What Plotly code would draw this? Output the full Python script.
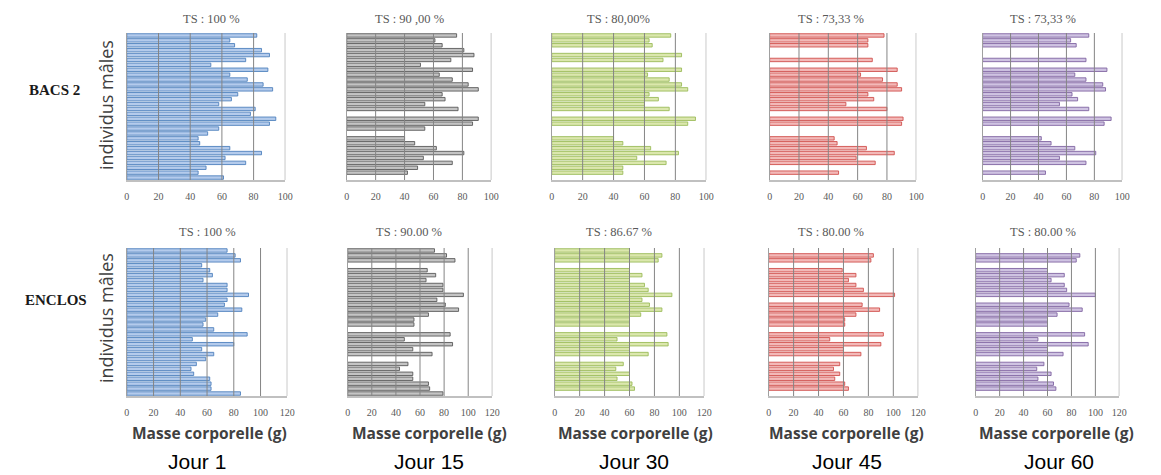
import plotly.graph_objects as go

W, H = 1161, 475

individus = list(range(1, 31))

jours = ["Jour 1", "Jour 15", "Jour 30", "Jour 45", "Jour 60"]
groupes = ["BACS 2", "ENCLOS"]

titres_bacs = ["TS : 100 %", "TS : 90 ,00 %", "TS : 80,00%", "TS : 73,33 %", "TS : 73,33 %"]
titres_enclos = ["TS : 100 %", "TS : 90.00 %", "TS : 86.67 %", "TS : 80.00 %", "TS : 80.00 %"]

ticks_bacs = [0, 20, 40, 60, 80, 100]
ticks_enclos = [0, 20, 40, 60, 80, 100, 120]

# Masse corporelle (g) par individu (None = individu mort)
bacs_j1 = [82, 65, 68, 85, 90, 75, 53, 89, 65, 76, 86, 92, 70, 66, 58, 81, 78, 94, 90, 58, 51, 45, 46, 65, 85, 62, 75, 50, 45, 61]
bacs_j15 = [76, 61, 66, 81, 88, 72, 51, 87, 64, 73, 84, 91, 66, 68, 54, 77, None, 91, 87, 54, None, 40, 47, 62, 81, 53, 73, 49, 42, None]
bacs_j30 = [77, 63, 65, None, 84, 72, None, 84, 62, 76, 84, 88, 63, 69, 60, 76, None, 93, 88, None, None, 40, 46, 64, 82, 55, 74, 46, 46, None]
bacs_j45 = [78, 67, 67, None, None, 70, None, 87, 62, 77, 87, 90, 67, 71, 52, 80, None, 91, 90, None, None, 44, 46, 66, 85, 59, 72, None, 47, None]
bacs_j60 = [76, 63, 67, None, None, 74, None, 89, 66, 74, 86, 88, 64, 68, 55, 76, None, 92, 87, None, None, 42, 49, 66, 81, 55, 74, None, 45, None]

enclos_j1 = [75, 81, 85, 56, 62, 64, 57, 75, 75, 91, 75, 73, 86, 68, 59, 57, 65, 90, 49, 80, 56, 65, 59, 52, 48, 50, 62, 63, 63, 85]
enclos_j15 = [72, 82, 89, None, 66, 73, 65, 79, 79, 96, 74, 81, 92, 67, 55, 55, None, 85, 47, 87, 54, 70, None, 50, 43, 54, 54, 67, 68, 79]
enclos_j30 = [60, 86, 83, None, 60, 70, 60, 72, 75, 94, 70, 76, 86, 69, 60, 60, None, 90, 50, 91, 60, 75, None, 55, 49, 60, 50, 62, 64, None]
enclos_j45 = [None, 84, 82, None, 59, 70, 64, 70, 76, 101, None, 75, 89, 70, 61, 61, None, 92, 49, 90, 60, 74, None, 57, 52, 57, 53, 61, 64, None]
enclos_j60 = [None, 87, 84, None, 60, 74, 63, 74, 76, 100, None, 78, 89, 68, 60, 60, None, 91, 52, 94, 60, 73, None, 57, 51, 63, 52, 65, 67, None]

bacs = [bacs_j1, bacs_j15, bacs_j30, bacs_j45, bacs_j60]
enclos = [enclos_j1, enclos_j15, enclos_j30, enclos_j45, enclos_j60]

fills = ["#b4cbec", "#c4c4c4", "#dbe7ad", "#f3b9b8", "#cfc3e2"]
lines = ["#4f81bd", "#595959", "#9bbb59", "#d0504d", "#8064a2"]

# panel layout (pixels)
row1_x = [(125, 285), (347, 493), (554, 710), (774, 922), (989, 1130)]
row2_x = [(125, 287), (348, 494), (557, 708), (773, 924), (982, 1127)]
row1_y = (33, 180)
row2_y = (248, 396)
title1_cx = [210, 410, 621, 836, 1050]
title2_cx = [206, 410, 622, 836, 1050]
jour_cx = [196, 430, 637, 852, 1066]
masse_cx = [208, 431, 639, 852, 1064]


def px(x):
    return x / W


def py(y):
    return 1 - y / H


fig = go.Figure()
layout = {}
shapes = []
annotations = []

n = 0
for r, (data, xdoms, ydom, ticks) in enumerate([
        (bacs, row1_x, row1_y, ticks_bacs),
        (enclos, row2_x, row2_y, ticks_enclos)]):
    for c in range(5):
        n += 1
        xa = "x" if n == 1 else f"x{n}"
        ya = "y" if n == 1 else f"y{n}"
        fig.add_trace(go.Bar(
            x=data[c], y=individus, orientation="h",
            marker=dict(color=fills[c], line=dict(color=lines[c], width=0.9)),
            xaxis=xa, yaxis=ya, showlegend=False, hoverinfo="x"))
        xk = "xaxis" if n == 1 else f"xaxis{n}"
        yk = "yaxis" if n == 1 else f"yaxis{n}"
        layout[xk] = dict(
            domain=[px(xdoms[c][0]), px(xdoms[c][1])],
            anchor=ya, range=[0, ticks[-1]], tickvals=ticks,
            showgrid=False, zeroline=False, showline=True,
            linecolor="#c0c0c0", linewidth=1.5, ticks="",
            ticklabelstandoff=6,
            tickfont=dict(family="Liberation Serif", size=10, color="#595959"),
            fixedrange=True)
        layout[yk] = dict(
            domain=[py(ydom[1]), py(ydom[0])],
            anchor=xa, range=[30.5, 0.5], showticklabels=False,
            showgrid=False, zeroline=False, showline=True,
            linecolor="#a0a0a0", linewidth=1, ticks="", fixedrange=True)
        for t in ticks[1:]:
            shapes.append(dict(type="line", xref=xa, yref=f"{ya} domain",
                               x0=t, x1=t, y0=0, y1=1, layer="above",
                               line=dict(color="#858585", width=1)))
        # titles
        tcx = title1_cx[c] if r == 0 else title2_cx[c]
        ty = 19 if r == 0 else 232
        ttxt = titres_bacs[c] if r == 0 else titres_enclos[c]
        annotations.append(dict(text=ttxt, x=px(tcx), y=py(ty), xref="paper", yref="paper",
                                showarrow=False, xanchor="center", yanchor="middle",
                                font=dict(family="Liberation Serif", size=12.5, color="#595959")))

# y-axis titles
for cy in [105, 318]:
    annotations.append(dict(text="individus mâles", x=px(104), y=py(cy), xref="paper", yref="paper",
                            showarrow=False, textangle=-90, xanchor="center", yanchor="middle",
                            font=dict(family="Open Sans", size=18, color="#404040")))

# row labels
annotations.append(dict(text="<b>" + groupes[0] + "</b>", x=px(52), y=py(90), xref="paper", yref="paper",
                        showarrow=False, xanchor="center", yanchor="middle",
                        font=dict(family="Liberation Serif", size=15, color="#1a1a1a")))
annotations.append(dict(text="<b>" + groupes[1] + "</b>", x=px(54), y=py(300), xref="paper", yref="paper",
                        showarrow=False, xanchor="center", yanchor="middle",
                        font=dict(family="Liberation Serif", size=15, color="#1a1a1a")))

for c in range(5):
    annotations.append(dict(text="Masse corporelle (g)", x=px(masse_cx[c]), y=py(433), xref="paper", yref="paper",
                            showarrow=False, xanchor="center", yanchor="middle",
                            font=dict(family="Open Sans", size=15.5, color="#404040", weight=700)))
    annotations.append(dict(text=jours[c], x=px(jour_cx[c]), y=py(461), xref="paper", yref="paper",
                            showarrow=False, xanchor="center", yanchor="middle",
                            font=dict(family="Liberation Sans", size=21, color="#000000")))

fig.update_layout(
    width=W, height=H, margin=dict(l=0, r=0, t=0, b=0),
    paper_bgcolor="white", plot_bgcolor="white",
    bargap=0.3, shapes=shapes, annotations=annotations, **layout)

fig.write_html("out.html", config={"displayModeBar": False},
               post_script="document.body.style.margin='0';")
